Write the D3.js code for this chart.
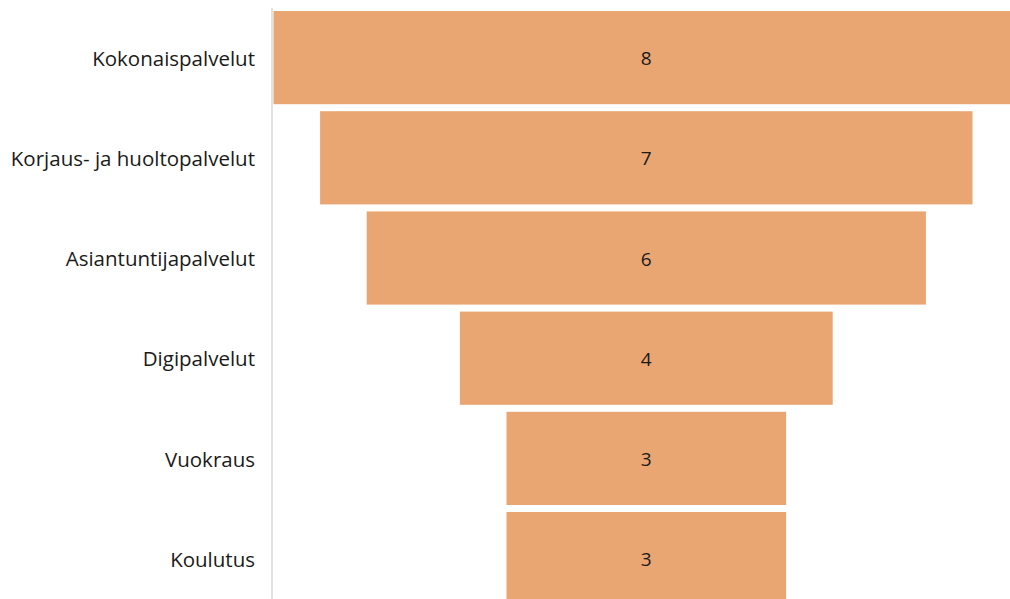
<!DOCTYPE html>
<html>
<head>
<meta charset="utf-8">
<script src="https://cdn.jsdelivr.net/npm/d3@7"></script>
<style>
  html, body { margin: 0; padding: 0; background: #fff; }
  svg { display: block; }
  text { font-family: "Open Sans", "Noto Sans", sans-serif; fill: #1a1a1a; }
</style>
</head>
<body>
<svg id="chart" width="1010" height="599"></svg>
<script>
// Service categories, top to bottom, and their counts
const categories = [
  "Kokonaispalvelut",
  "Korjaus- ja huoltopalvelut",
  "Asiantuntijapalvelut",
  "Digipalvelut",
  "Vuokraus",
  "Koulutus"
];
const counts = [8, 7, 6, 4, 3, 3];

const W = 1010, H = 599;
const axisX = 272;      // vertical category axis
const centerX = 646.3;  // funnel centre line
const barColor = "#E9A673";

const svg = d3.select("#chart");

const y = d3.scaleBand()
  .domain(categories)
  .range([4, 612.2])
  .paddingInner(0.07)
  .paddingOuter(0.07);

// width of each bar is proportional to its count
const w = d3.scaleLinear().domain([0, 8]).range([0, 745.6]);

const rows = categories.map((c, i) => ({ name: c, value: counts[i] }));

svg.append("g").selectAll("rect")
  .data(rows)
  .join("rect")
  .attr("x", d => centerX - w(d.value) / 2)
  .attr("y", d => y(d.name))
  .attr("width", d => w(d.value))
  .attr("height", y.bandwidth())
  .attr("fill", barColor);

svg.append("g").selectAll("text")
  .data(rows)
  .join("text")
  .attr("x", centerX)
  .attr("y", d => y(d.name) + y.bandwidth() / 2 + 1)
  .attr("text-anchor", "middle")
  .attr("dy", "0.35em")
  .attr("font-size", 19)
  .text(d => d.value);

// category axis
const axis = svg.append("g")
  .attr("transform", `translate(${axisX},0)`)
  .call(d3.axisLeft(y).tickSize(0).tickPadding(17));
axis.select(".domain").remove();
axis.selectAll("text")
  .attr("font-size", 20.5)
  .attr("dy", "0.4em")
  .style("font-family", "\"Open Sans\", \"Noto Sans\", sans-serif")
  .attr("fill", "#1a1a1a");

svg.append("line")
  .attr("x1", axisX).attr("x2", axisX)
  .attr("y1", 8).attr("y2", H)
  .attr("stroke", "#d9d9d9")
  .attr("stroke-width", 1.5);
</script>
</body>
</html>
